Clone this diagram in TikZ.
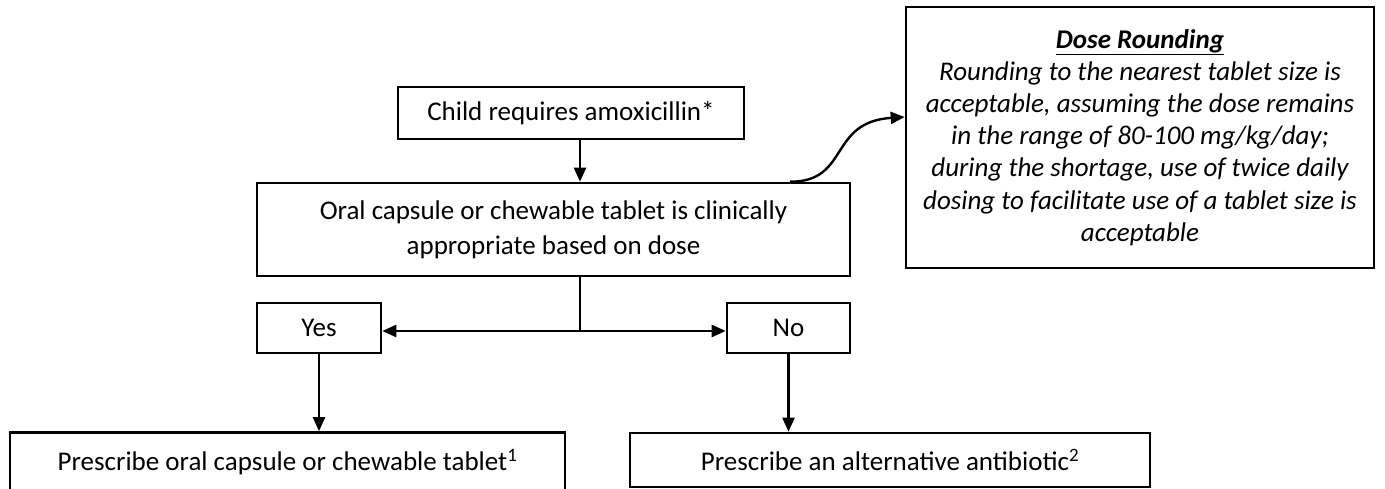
\documentclass[tikz,border=0pt]{standalone}
\usepackage{fontspec}
\setmainfont{Carlito}
\usetikzlibrary{arrows.meta,calc}
\begin{document}
\begin{tikzpicture}[x=1pt,y=-1pt,
  box/.style={draw=black,line width=2.6pt,inner sep=0pt,align=center,font=\fontsize{27}{35}\selectfont},
  arr/.style={line width=2.4pt,-{Triangle[length=14pt,width=12pt]}},
  arrboth/.style={line width=2.4pt,{Triangle[length=14pt,width=12pt]}-{Triangle[length=14pt,width=12pt]}}]
\useasboundingbox (0,0) rectangle (1385,489);
\clip (0,0) rectangle (1385,489);
\node[box,minimum width=346,minimum height=52] (top) at (571,113) {Child requires amoxicillin*};
\node[box,minimum width=593,minimum height=93] (main) at (553.5,229.5) {Oral capsule or chewable tablet is clinically\\appropriate based on dose};
\node[box,minimum width=468,minimum height=261,font=\fontsize{27}{32.2}\selectfont\itshape] (dose) at (1140,137.5) {\underline{\textbf{Dose Rounding}}\\Rounding to the nearest tablet size is\\acceptable, assuming the dose remains\\in the range of 80-100 mg/kg/day;\\during the shortage, use of twice daily\\dosing to facilitate use of a tablet size is\\acceptable};
\node[box,minimum width=124,minimum height=50] (yes) at (319,328) {Yes};
\node[box,minimum width=123,minimum height=50] (no) at (788.5,328) {No};
\node[box,minimum width=555,minimum height=60] (lb) at (287.5,462.5) {Prescribe oral capsule or chewable tablet\textsuperscript{1}};
\node[box,minimum width=520,minimum height=54] (rb) at (890,460) {Prescribe an alternative antibiotic\textsuperscript{2}};
\coordinate (cx) at (580,0);
\coordinate (jn) at (580,331);
\coordinate (cs) at (790,0);
\coordinate (ce) at (0,117);
\draw[arr] (top.south -| cx) -- (main.north -| cx);
\draw[line width=2.4pt] (main.south -| cx) -- (jn);
\draw[arrboth] (yes.east |- jn) -- (no.west |- jn);
\draw[arr] (yes.south) -- (lb.north -| yes.south);
\draw[arr] (no.south) -- (rb.north -| no.south);
\draw[arr] (main.north -| cs) .. controls (850,182) and (828,122) .. (dose.west |- ce);
\end{tikzpicture}
\end{document}
